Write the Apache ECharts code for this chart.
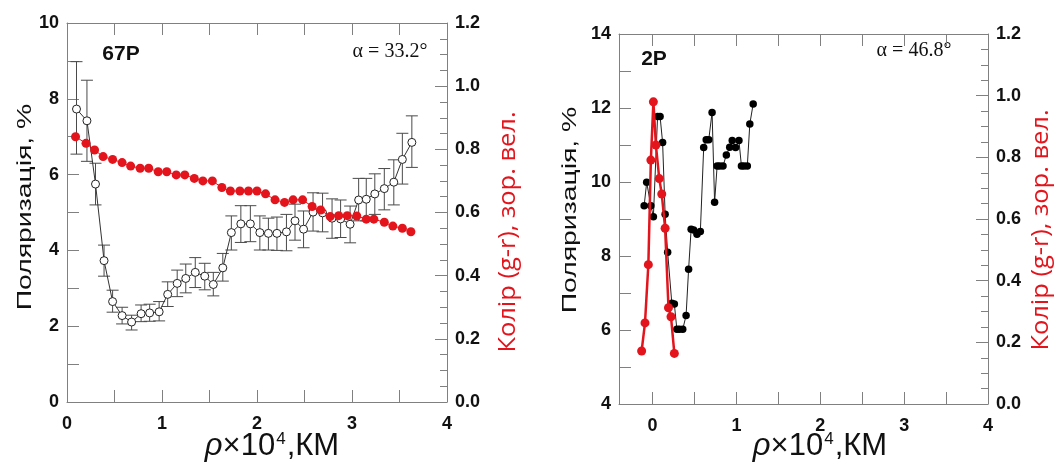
<!DOCTYPE html>
<html><head><meta charset="utf-8">
<script src="https://cdn.jsdelivr.net/npm/echarts@6/dist/echarts.min.js"></script>
<style>html,body{margin:0;padding:0;background:#fff}#c{width:1056px;height:466px}</style>
</head><body><div id="c"></div>
<script>
// ---- 67P panel ----
const rhoPol67 = [0.10,0.21,0.30,0.39,0.48,0.58,0.68,0.78,0.87,0.97,1.06,1.16,1.25,1.35,1.45,1.54,1.64,1.73,1.83,1.93,2.03,2.12,2.21,2.31,2.40,2.49,2.59,2.69,2.79,2.88,2.98,3.07,3.15,3.24,3.34,3.44,3.53,3.63];
const pol67 = [7.73,7.42,5.75,3.73,2.65,2.28,2.11,2.33,2.35,2.38,2.84,3.13,3.26,3.42,3.32,3.10,3.54,4.47,4.70,4.70,4.47,4.45,4.45,4.49,4.78,4.56,5.01,4.99,4.85,4.83,4.69,5.33,5.35,5.49,5.63,5.80,6.40,6.85];
const polHigh67 = [8.98,8.49,6.30,4.14,2.95,2.50,2.29,2.56,2.58,2.65,3.17,3.48,3.64,3.81,3.66,3.42,3.92,4.91,5.18,5.18,4.91,4.85,4.88,4.95,5.22,5.04,5.52,5.51,5.36,5.33,5.17,5.90,5.90,6.02,6.16,6.39,7.09,7.55];
const polLow67 = [6.54,6.35,5.20,3.32,2.37,2.06,1.90,2.12,2.13,2.14,2.52,2.78,2.88,3.02,2.96,2.80,3.19,4.01,4.21,4.23,4.01,4.01,4.00,3.99,4.27,4.07,4.51,4.49,4.32,4.34,4.20,4.78,4.78,4.95,5.07,5.20,5.75,6.19];
const rhoCol67 = [0.09,0.20,0.29,0.38,0.48,0.58,0.67,0.77,0.86,0.96,1.05,1.15,1.24,1.34,1.43,1.53,1.63,1.72,1.82,1.91,2.00,2.09,2.19,2.29,2.38,2.48,2.58,2.67,2.77,2.86,2.95,3.05,3.15,3.23,3.34,3.43,3.53,3.62];
const col67 = [0.840,0.819,0.798,0.777,0.768,0.758,0.747,0.740,0.740,0.729,0.729,0.719,0.719,0.708,0.700,0.700,0.679,0.668,0.668,0.668,0.668,0.659,0.640,0.632,0.640,0.640,0.619,0.608,0.587,0.590,0.590,0.589,0.579,0.579,0.569,0.557,0.550,0.539];
// ---- 2P panel ----
const rhoPol2P = [-0.10,-0.07,-0.02,0.01,0.06,0.09,0.12,0.15,0.18,0.23,0.26,0.29,0.32,0.36,0.40,0.43,0.46,0.49,0.53,0.57,0.61,0.64,0.67,0.71,0.74,0.77,0.80,0.84,0.88,0.92,0.95,0.99,1.03,1.06,1.09,1.13,1.16,1.20];
const pol2P = [9.36,9.99,9.36,9.06,11.77,11.77,11.07,9.13,8.10,6.72,6.70,6.02,6.02,6.02,6.39,7.64,8.72,8.70,8.59,8.66,10.93,11.14,11.14,11.88,9.45,10.43,10.43,10.43,10.73,10.94,11.12,10.93,11.12,10.43,10.43,10.43,11.57,12.11];
const rhoCol2P = [-0.13,-0.09,-0.05,-0.02,0.01,0.04,0.08,0.11,0.15,0.19,0.22,0.26];
const col2P = [0.172,0.263,0.452,0.791,0.980,0.840,0.731,0.681,0.570,0.312,0.283,0.164];
// ---- ticks / labels ----
const xLabelVals = [0,1,2,3,4];
const xTickVals = [0,0.5,1,1.5,2,2.5,3,3.5,4];
const comet1 = '67P', comet2 = '2P';
const alpha1 = 'α = 33.2°', alpha2 = 'α = 46.8°';
const polName = 'Поляризація, %';
const colName = 'Колір (g-r), зор. вел.';

const zip = (a, b) => a.map((v, i) => [v, b[i]]);
const RED = '#e3141c', AX = '#808080';

const chart = echarts.init(document.getElementById('c'));

function errItem(params, api) {
  const x = api.value(0), lo = api.value(1), hi = api.value(2);
  const a = api.coord([x, hi]), b = api.coord([x, lo]);
  const w = 6, st = { stroke: '#4a4a4a', lineWidth: 1 };
  return { type: 'group', children: [
    { type: 'line', shape: { x1: a[0], y1: a[1], x2: b[0], y2: b[1] }, style: st },
    { type: 'line', shape: { x1: a[0] - w, y1: a[1], x2: a[0] + w, y2: a[1] }, style: st },
    { type: 'line', shape: { x1: b[0] - w, y1: b[1], x2: b[0] + w, y2: b[1] }, style: st }
  ]};
}

const lbl = { color: '#111', fontWeight: 'bold', fontSize: 18, fontFamily: 'Liberation Sans, Arial, sans-serif' };
const axLine = { show: true, onZero: false, lineStyle: { color: AX, width: 1 } };

function xAx(grid, min, pos, showLabel) {
  return {
    type: 'value', gridIndex: grid, position: pos, min: min, max: 4,
    axisLine: axLine,
    axisTick: { show: true, inside: true, length: 12, customValues: xTickVals, lineStyle: { color: AX } },
    axisLabel: Object.assign({ show: showLabel, margin: 13, customValues: xLabelVals }, lbl),
    splitLine: { show: false }
  };
}
function yAxL(grid, min, max) {
  return {
    type: 'value', gridIndex: grid, position: 'left', min: min, max: max, interval: 2,
    axisLine: axLine,
    axisTick: { show: true, inside: true, length: 12, lineStyle: { color: AX } },
    minorTick: { show: true, splitNumber: 2, length: 12, lineStyle: { color: AX } },
    axisLabel: Object.assign({ margin: 8 }, lbl),
    splitLine: { show: false }, minorSplitLine: { show: false }
  };
}
function yAxR(grid) {
  return {
    type: 'value', gridIndex: grid, position: 'right', min: 0, max: 1.2, interval: 0.2,
    axisLine: axLine,
    axisTick: { show: true, inside: true, length: 12, lineStyle: { color: AX } },
    minorTick: { show: true, splitNumber: 4, length: 7, lineStyle: { color: AX } },
    axisLabel: Object.assign({ margin: 8, formatter: v => v.toFixed(1) }, lbl),
    splitLine: { show: false }, minorSplitLine: { show: false }
  };
}

function txt(x, y, text, font, opts) {
  return Object.assign({ type: 'text', x: x, y: y, style: Object.assign({ text: text, font: font, fill: '#111', align: 'center', verticalAlign: 'middle' }, opts && opts.style || {}) }, opts && opts.el || {});
}
function xName(x, y) {
  return { type: 'text', x: x, y: y, style: {
    text: '{r|ρ}{n|×10}{s|4}{n|,КМ}', align: 'center', verticalAlign: 'middle',
    rich: {
      r: { font: 'italic 31px "Liberation Sans", Arial', fill: '#111', verticalAlign: 'bottom' },
      n: { font: '31px "Liberation Sans", Arial', fill: '#111', verticalAlign: 'bottom' },
      s: { font: '17px "Liberation Sans", Arial', fill: '#111', verticalAlign: 'top', padding: [0, 1, 9, 1] }
    }
  }};
}

chart.setOption({
  animation: false,
  backgroundColor: '#fff',
  grid: [
    { left: 67, top: 23, width: 380, height: 379 },
    { left: 619, top: 34, width: 369, height: 370 }
  ],
  xAxis: [ xAx(0, 0, 'bottom', true), xAx(0, 0, 'top', false), xAx(1, -0.4, 'bottom', true), xAx(1, -0.4, 'top', false) ],
  yAxis: [ yAxL(0, 0, 10), yAxR(0), yAxL(1, 4, 14), yAxR(1) ],
  series: [
    { type: 'custom', xAxisIndex: 0, yAxisIndex: 0, renderItem: errItem, encode: { x: 0, y: [1, 2] },
      data: rhoPol67.map((v, i) => [v, polLow67[i], polHigh67[i]]), z: 1 },
    { type: 'line', xAxisIndex: 0, yAxisIndex: 0, data: zip(rhoPol67, pol67), symbol: 'circle', symbolSize: 8,
      itemStyle: { color: '#fff', borderColor: '#222', borderWidth: 1 }, lineStyle: { color: '#333', width: 1 }, z: 2 },
    { type: 'line', xAxisIndex: 0, yAxisIndex: 1, data: zip(rhoCol67, col67), symbol: 'circle', symbolSize: 9,
      itemStyle: { color: RED }, lineStyle: { color: RED, width: 1 }, z: 3 },
    { type: 'line', xAxisIndex: 2, yAxisIndex: 2, data: zip(rhoPol2P, pol2P), symbol: 'circle', symbolSize: 7.5,
      itemStyle: { color: '#000' }, lineStyle: { color: '#222', width: 1 }, z: 2 },
    { type: 'line', xAxisIndex: 2, yAxisIndex: 3, data: zip(rhoCol2P, col2P), symbol: 'circle', symbolSize: 9,
      itemStyle: { color: RED }, lineStyle: { color: RED, width: 2.5 }, z: 3 }
  ],
  graphic: [
    txt(121, 54, comet1, 'bold 21px "Liberation Sans", Arial'),
    txt(654, 59, comet2, 'bold 21px "Liberation Sans", Arial'),
    txt(390, 52, alpha1, '20px "Liberation Serif", "Times New Roman", serif'),
    txt(914, 51, alpha2, '20px "Liberation Serif", "Times New Roman", serif'),
    txt(25, 207, polName, '21px "Liberation Sans", Arial', { el: { rotation: Math.PI / 2, scaleX: 1.35 } }),
    txt(570, 210, polName, '21px "Liberation Sans", Arial', { el: { rotation: Math.PI / 2, scaleX: 1.35 } }),
    txt(508, 232, colName, '24px "Open Sans", "Noto Sans", sans-serif', { el: { rotation: Math.PI / 2, scaleX: 1.06 }, style: { fill: RED } }),
    txt(1041, 230, colName, '24px "Open Sans", "Noto Sans", sans-serif', { el: { rotation: Math.PI / 2, scaleX: 1.06 }, style: { fill: RED } }),
    xName(272, 446),
    xName(820, 446)
  ]
});
</script></body></html>
